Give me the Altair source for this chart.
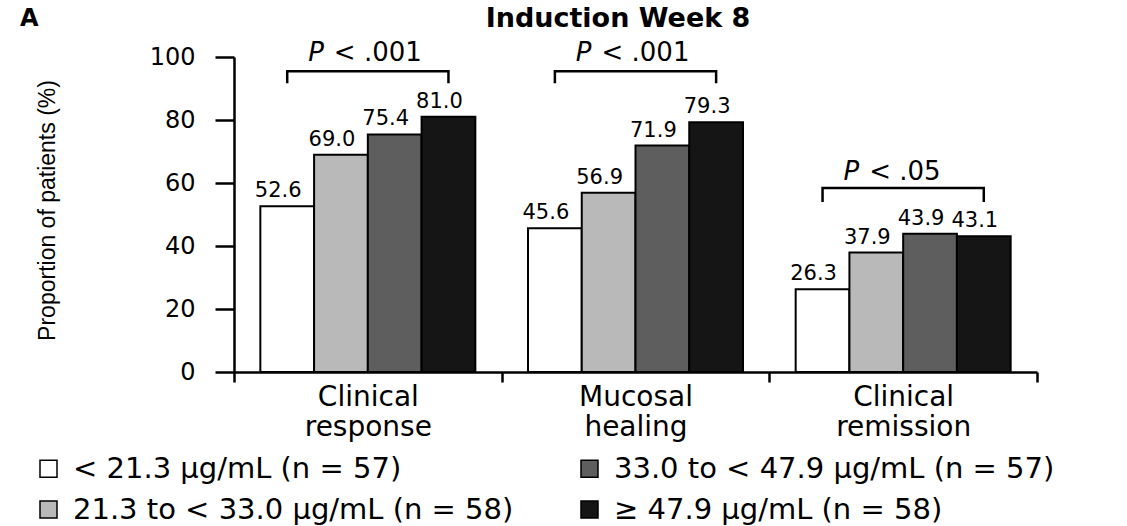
import altair as alt
import pandas as pd

categories = ["Clinical response", "Mucosal healing", "Clinical remission"]
groups = [
    "< 21.3 μg/mL (n = 57)",
    "21.3 to < 33.0 μg/mL (n = 58)",
    "33.0 to < 47.9 μg/mL (n = 57)",
    "≥ 47.9 μg/mL (n = 58)",
]
clinical_response = [52.6, 69.0, 75.4, 81.0]
mucosal_healing = [45.6, 56.9, 71.9, 79.3]
clinical_remission = [26.3, 37.9, 43.9, 43.1]
colors = ["#ffffff", "#b9b9b9", "#5e5e5e", "#151515"]

p_labels = ["< .001", "< .001", "< .05"]
bracket_top = [95.5, 95.5, 58.4]
bracket_tip = [91.7, 91.7, 54.0]
p_label_y = [101.3, 101.3, 63.5]

series = [clinical_response, mucosal_healing, clinical_remission]
rows = []
for cat, vals in zip(categories, series):
    for g, v in zip(groups, vals):
        rows.append({"category": cat, "group": g, "value": v})
df = pd.DataFrame(rows)

brows = []
for cat, top, tip in zip(categories, bracket_top, bracket_tip):
    brows += [
        {"category": cat, "group": groups[0], "value": tip, "k": 0},
        {"category": cat, "group": groups[0], "value": top, "k": 1},
        {"category": cat, "group": groups[3], "value": top, "k": 2},
        {"category": cat, "group": groups[3], "value": tip, "k": 3},
    ]
bdf = pd.DataFrame(brows)
pdf = pd.DataFrame({"category": categories, "label": p_labels, "value": p_label_y})

FONT = "DejaVu Sans"

x_enc = alt.X(
    "category:N",
    sort=categories,
    scale=alt.Scale(paddingInner=0, paddingOuter=0),
    axis=alt.Axis(
        title=None, labelAngle=0, labelExpr="split(datum.label, ' ')",
        labelFont=FONT, labelFontSize=28, labelLineHeight=30, labelPadding=1,
        labelColor="black", tickSize=10, tickWidth=2.5, tickColor="black",
        tickBand="extent", domainWidth=2.5, domainColor="black",
    ),
)
xoff = alt.XOffset(
    "group:N", sort=groups,
    scale=alt.Scale(domain=groups, paddingInner=0, paddingOuter=0.49),
)
y_enc = alt.Y(
    "value:Q",
    scale=alt.Scale(domain=[0, 100], nice=False),
    axis=alt.Axis(
        values=[0, 20, 40, 60, 80, 100], grid=False,
        title="Proportion of patients (%)", titleFont="Liberation Sans",
        titleFontSize=23, titleFontWeight="normal", titleColor="black",
        titleAngle=270, titleX=-187, titleY=153, titleAlign="center",
        titleBaseline="middle",
        labelFont=FONT, labelFontSize=24, labelPadding=20, labelColor="black",
        tickSize=19, tickWidth=2.5, tickColor="black",
        domainWidth=2.5, domainColor="black",
    ),
)

bars = alt.Chart(df).mark_bar(stroke="black", strokeWidth=2).encode(
    x=x_enc,
    xOffset=xoff,
    y=y_enc,
    color=alt.Color(
        "group:N",
        scale=alt.Scale(domain=groups, range=colors),
        legend=alt.Legend(
            orient="none", legendX=-200, legendY=397, columns=2, title=None,
            symbolType="square", symbolSize=289, symbolStrokeColor="black",
            symbolStrokeWidth=1.5, labelFont=FONT, labelFontSize=29,
            labelColor="black", labelOffset=10, rowPadding=11,
            columnPadding=61, labelLimit=0, padding=0,
        ),
    ),
)

labels = alt.Chart(df).mark_text(
    font=FONT, fontSize=21, dy=-9, dx=-9, baseline="alphabetic", color="black"
).encode(
    x=alt.X("category:N", sort=categories),
    xOffset=xoff,
    y="value:Q",
    text=alt.Text("value:Q", format=".1f"),
)

bracket = alt.Chart(bdf).mark_line(color="black", strokeWidth=2.5).encode(
    x=alt.X("category:N", sort=categories),
    xOffset=xoff,
    y="value:Q",
    detail="category:N",
    order="k:Q",
)

p_italic = alt.Chart(pdf).mark_text(
    text="P", font=FONT, fontSize=26, fontStyle="italic", align="right",
    baseline="middle", dx=-44, color="black",
).encode(x=alt.X("category:N", sort=categories), y="value:Q")

p_rest = alt.Chart(pdf).mark_text(
    font=FONT, fontSize=26, align="left", baseline="middle", dx=-34,
    color="black",
).encode(x=alt.X("category:N", sort=categories), y="value:Q", text="label:N")

panel = alt.Chart(pd.DataFrame({"t": ["A"]})).mark_text(
    font=FONT, fontSize=24, fontWeight="bold", align="left",
    baseline="alphabetic", color="black",
).encode(x=alt.value(-214), y=alt.value(-31), text="t:N")

title = alt.Chart(pd.DataFrame({"t": ["Induction Week 8"]})).mark_text(
    font=FONT, fontSize=27, fontWeight="bold", align="center",
    baseline="alphabetic", color="black",
).encode(x=alt.value(384), y=alt.value(-30), text="t:N")

chart = alt.layer(bars, labels, bracket, p_italic, p_rest, panel, title).properties(
    width=803,
    height=315,
    autosize=alt.AutoSizeParams(type="none"),
    padding={"left": 234, "top": 57, "right": 90, "bottom": 154},
).configure_view(stroke=None)

chart.save("out.html", embed_options={"renderer": "svg", "actions": False})
